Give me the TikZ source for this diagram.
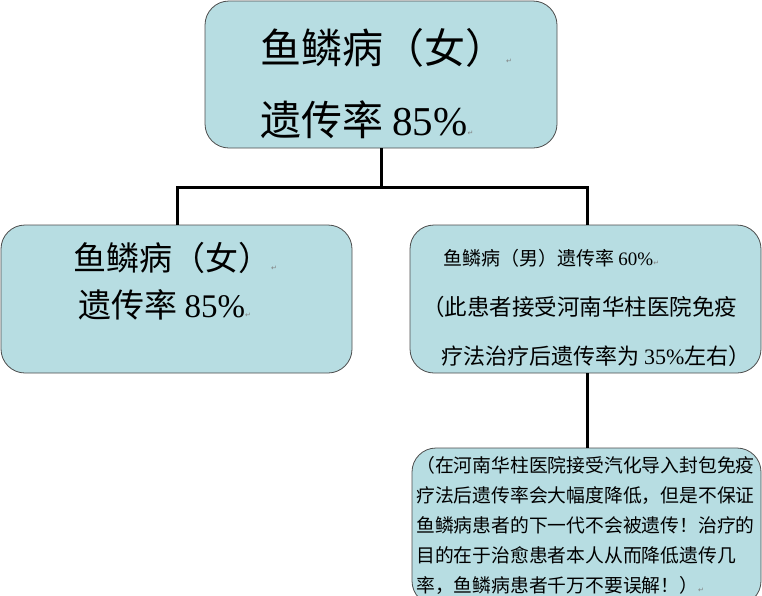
\documentclass[tikz,border=0pt]{standalone}
\usepackage{fontspec}
\setmainfont{Liberation Serif}
\newfontfamily\cjk{Noto Sans CJK SC}
\newfontfamily\djv{DejaVu Sans}
\newcommand{\parmk}{{\djv\color{gray}\fontsize{7}{7}\selectfont ↵}}
\begin{document}
\begin{tikzpicture}[x=1pt,y=-1pt,
  box/.style={draw=black!70,line width=0.8pt,fill=boxc,rounded corners=24pt},
  conn/.style={line width=3pt,black},
  txt/.style={anchor=west,align=left,inner sep=0pt}]
\definecolor{boxc}{RGB}{183,221,226}
\useasboundingbox (0,0) rectangle (762,595);
\path[box] (205,1) rectangle (557,148);
\path[box] (1,225) rectangle (352,373);
\path[box] (410,225) rectangle (761,373);
\path[box] (412,448) rectangle (761,605);
\coordinate (t) at (381,148);
\coordinate (l) at (177,225);
\coordinate (r) at (587,225);
\coordinate (rb) at (587,373);
\coordinate (b) at (587,448);
\draw[conn] (t) -- (381,187) -| (l);
\draw[conn] (381,187) -| (r);
\draw[conn] (rb) -- (b);
\node[txt,font=\fontsize{41}{41}\selectfont] (ta) at (260,48) {\cjk 鱼鳞病（女）\parmk};
\node[txt,font=\fontsize{41}{41}\selectfont] (tb) at (260,120) {\cjk 遗传率 \rmfamily 85\%\parmk};
\node[txt,font=\fontsize{33}{33}\selectfont] (la) at (73,258) {\cjk 鱼鳞病（女）\parmk};
\node[txt,font=\fontsize{33}{33}\selectfont] (lb) at (78,305) {\cjk 遗传率 \rmfamily 85\%\parmk};
\node[txt,font=\fontsize{19}{19}\selectfont] (ra) at (443,258) {\cjk 鱼鳞病（男）遗传率 \rmfamily 60\%\parmk};
\node[txt,font=\fontsize{22.5}{22.5}\selectfont] (rb2) at (422,307) {\cjk （此患者接受河南华柱医院免疫};
\node[txt,font=\fontsize{22}{22}\selectfont] (rc) at (441,356) {\cjk 疗法治疗后遗传率为 \rmfamily 35\%\cjk 左右）};
\node[txt,font=\fontsize{18.8}{30}\selectfont] (bt) at (416,525) {\cjk （在河南华柱医院接受汽化导入封包免疫\\\cjk 疗法后遗传率会大幅度降低，但是不保证\\\cjk 鱼鳞病患者的下一代不会被遗传！治疗的\\\cjk 目的在于治愈患者本人从而降低遗传几\\\cjk 率，鱼鳞病患者千万不要误解！）\parmk};
\end{tikzpicture}
\end{document}
